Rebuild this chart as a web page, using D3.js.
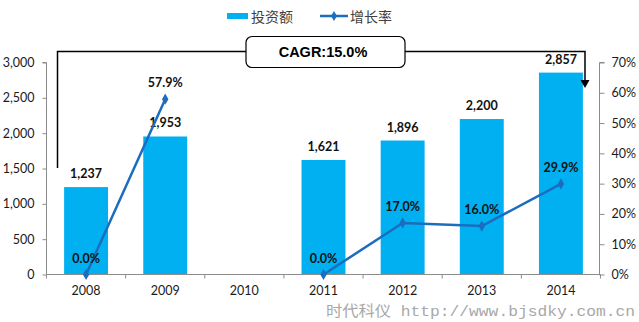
<!DOCTYPE html>
<html><head><meta charset="utf-8">
<script src="https://cdn.jsdelivr.net/npm/d3@7"></script>
<style>body{margin:0;background:#fff}svg{display:block}</style>
</head><body>
<svg id="c" width="639" height="322"></svg>
<script>
const years = ["2008","2009","2010","2011","2012","2013","2014"];
const investment = [1237, 1953, null, 1621, 1896, 2200, 2857];
const growth = [0.0, 57.9, null, 0.0, 17.0, 16.0, 29.9];
const leftTicks = [0, 500, 1000, 1500, 2000, 2500, 3000];
const rightTicks = [0, 10, 20, 30, 40, 50, 60, 70];
const seriesNames = ["投资额", "增长率"];
const cagrText = "CAGR:15.0%";
const watermark = "时代科仪 http://www.bjsdky.com.cn";

const svg = d3.select("#c");
const X0 = 46.5, X1 = 600.5, Y0 = 274.5, Y1 = 62.5;
const barColor = "#00B0F0", lineColor = "#1A6DBF", axisColor = "#8C8C8C";
const font = "Lato, 'Liberation Sans', sans-serif";

const x = d3.scaleBand().domain(years).range([X0, X1]).paddingInner(0.445).paddingOuter(0.2225);
const yL = d3.scaleLinear().domain([0, 3000]).range([Y0, Y1]);
const yR = d3.scaleLinear().domain([0, 70]).range([Y0, Y1]);
const cx = d => x(d) + x.bandwidth() / 2;

// bars
svg.append("g").selectAll("rect")
  .data(years.map((y, i) => ({y, v: investment[i]})).filter(d => d.v != null))
  .join("rect")
  .attr("x", d => x(d.y)).attr("width", x.bandwidth())
  .attr("y", d => yL(d.v)).attr("height", d => Y0 - yL(d.v))
  .attr("fill", barColor);

// left axis
const gL = svg.append("g").attr("transform", `translate(${X0},0)`)
  .call(d3.axisLeft(yL).tickValues(leftTicks).tickSize(4).tickPadding(8).tickFormat(d3.format(",")));
gL.select(".domain").attr("stroke", axisColor).attr("d", `M-4,${Y1}H0V${Y0}`);
gL.selectAll(".tick line").attr("stroke", axisColor);
gL.selectAll(".tick text").attr("font-family", font).attr("font-size", 12.5).attr("fill", "#1a1a1a");

// right axis
const gR = svg.append("g").attr("transform", `translate(${X1 - 1},0)`)
  .call(d3.axisRight(yR).tickValues(rightTicks).tickSize(5).tickPadding(7).tickFormat(d => d + "%"));
gR.select(".domain").attr("stroke", axisColor).attr("d", `M5,${Y1}H0V${Y0}`);
gR.selectAll(".tick line").attr("stroke", axisColor);
gR.selectAll(".tick text").attr("font-family", font).attr("font-size", 12.5).attr("fill", "#1a1a1a");

// bottom axis
const gB = svg.append("g").attr("transform", `translate(0,${Y0})`)
  .call(d3.axisBottom(x).tickSize(0).tickPadding(12));
gB.select(".domain").attr("stroke", axisColor).attr("d", `M${X0},0H${X1}`);
gB.selectAll(".tick text").attr("font-family", font).attr("font-size", 12.5).attr("fill", "#1a1a1a");
const step = x.step();
svg.append("g").selectAll("line").data(d3.range(years.length + 1)).join("line")
  .attr("x1", i => X0 + i * step).attr("x2", i => X0 + i * step)
  .attr("y1", Y0).attr("y2", Y0 + 4).attr("stroke", axisColor);

// bar labels
svg.append("g").selectAll("text")
  .data(years.map((y, i) => ({y, v: investment[i]})).filter(d => d.v != null))
  .join("text")
  .attr("x", d => cx(d.y)).attr("y", d => yL(d.v) - 9)
  .attr("text-anchor", "middle").attr("font-family", font).attr("font-weight", "bold")
  .attr("font-size", 12.5).attr("fill", "#111")
  .text(d => d3.format(",")(d.v));

// line
const pts = years.map((y, i) => ({y, v: growth[i]}));
svg.append("path").datum(pts)
  .attr("d", d3.line().defined(d => d.v != null).x(d => cx(d.y)).y(d => yR(d.v)))
  .attr("fill", "none").attr("stroke", lineColor).attr("stroke-width", 2.5);
svg.append("g").selectAll("path").data(pts.filter(d => d.v != null)).join("path")
  .attr("transform", d => `translate(${cx(d.y)},${yR(d.v)})`)
  .attr("d", d3.symbol(d3.symbolDiamond, 36)).attr("fill", lineColor);
svg.append("g").selectAll("text").data(pts.filter(d => d.v != null)).join("text")
  .attr("x", d => cx(d.y)).attr("y", d => yR(d.v) - 12)
  .attr("text-anchor", "middle").attr("font-family", font).attr("font-weight", "bold")
  .attr("font-size", 12.5).attr("fill", "#111")
  .text(d => d.v.toFixed(1) + "%");

// CAGR annotation
const ann = svg.append("g").attr("fill", "none").attr("stroke", "#000").attr("stroke-width", 1.5);
ann.append("path").attr("d", "M57.5,168V51.5H246");
ann.append("path").attr("d", "M405,51.5H585V80");
svg.append("path").attr("d", "M580.5,80L589.5,80L585,88Z").attr("fill", "#000");
svg.append("rect").attr("x", 246).attr("y", 36.5).attr("width", 159).attr("height", 31).attr("rx", 6)
  .attr("fill", "#fff").attr("stroke", "#000").attr("stroke-width", 1.2);
svg.append("text").attr("x", 323).attr("y", 57).attr("text-anchor", "middle")
  .attr("font-family", "'Liberation Sans', Arial, sans-serif").attr("font-weight", "bold")
  .attr("font-size", 14.5).attr("fill", "#000").text(cagrText);

// legend
const cjk = "'Noto Sans CJK SC', sans-serif";
svg.append("rect").attr("x", 227).attr("y", 13).attr("width", 21).attr("height", 6).attr("fill", barColor);
svg.append("text").attr("x", 251).attr("y", 21.5).attr("font-family", cjk).attr("font-size", 14)
  .attr("fill", "#404040").text(seriesNames[0]);
svg.append("line").attr("x1", 320).attr("x2", 348).attr("y1", 16).attr("y2", 16)
  .attr("stroke", lineColor).attr("stroke-width", 2.5);
svg.append("path").attr("transform", "translate(334,16)").attr("d", d3.symbol(d3.symbolDiamond, 30)).attr("fill", lineColor);
svg.append("text").attr("x", 350).attr("y", 21.5).attr("font-family", cjk).attr("font-size", 14)
  .attr("fill", "#404040").text(seriesNames[1]);

// watermark
svg.append("text").attr("x", 326).attr("y", 316).attr("font-family", "'Liberation Mono', 'Noto Sans CJK SC', monospace")
  .attr("font-size", 15).attr("fill", "#A8A8A8").attr("textLength", 309).attr("lengthAdjust", "spacingAndGlyphs")
  .text(watermark);
</script>
</body></html>
